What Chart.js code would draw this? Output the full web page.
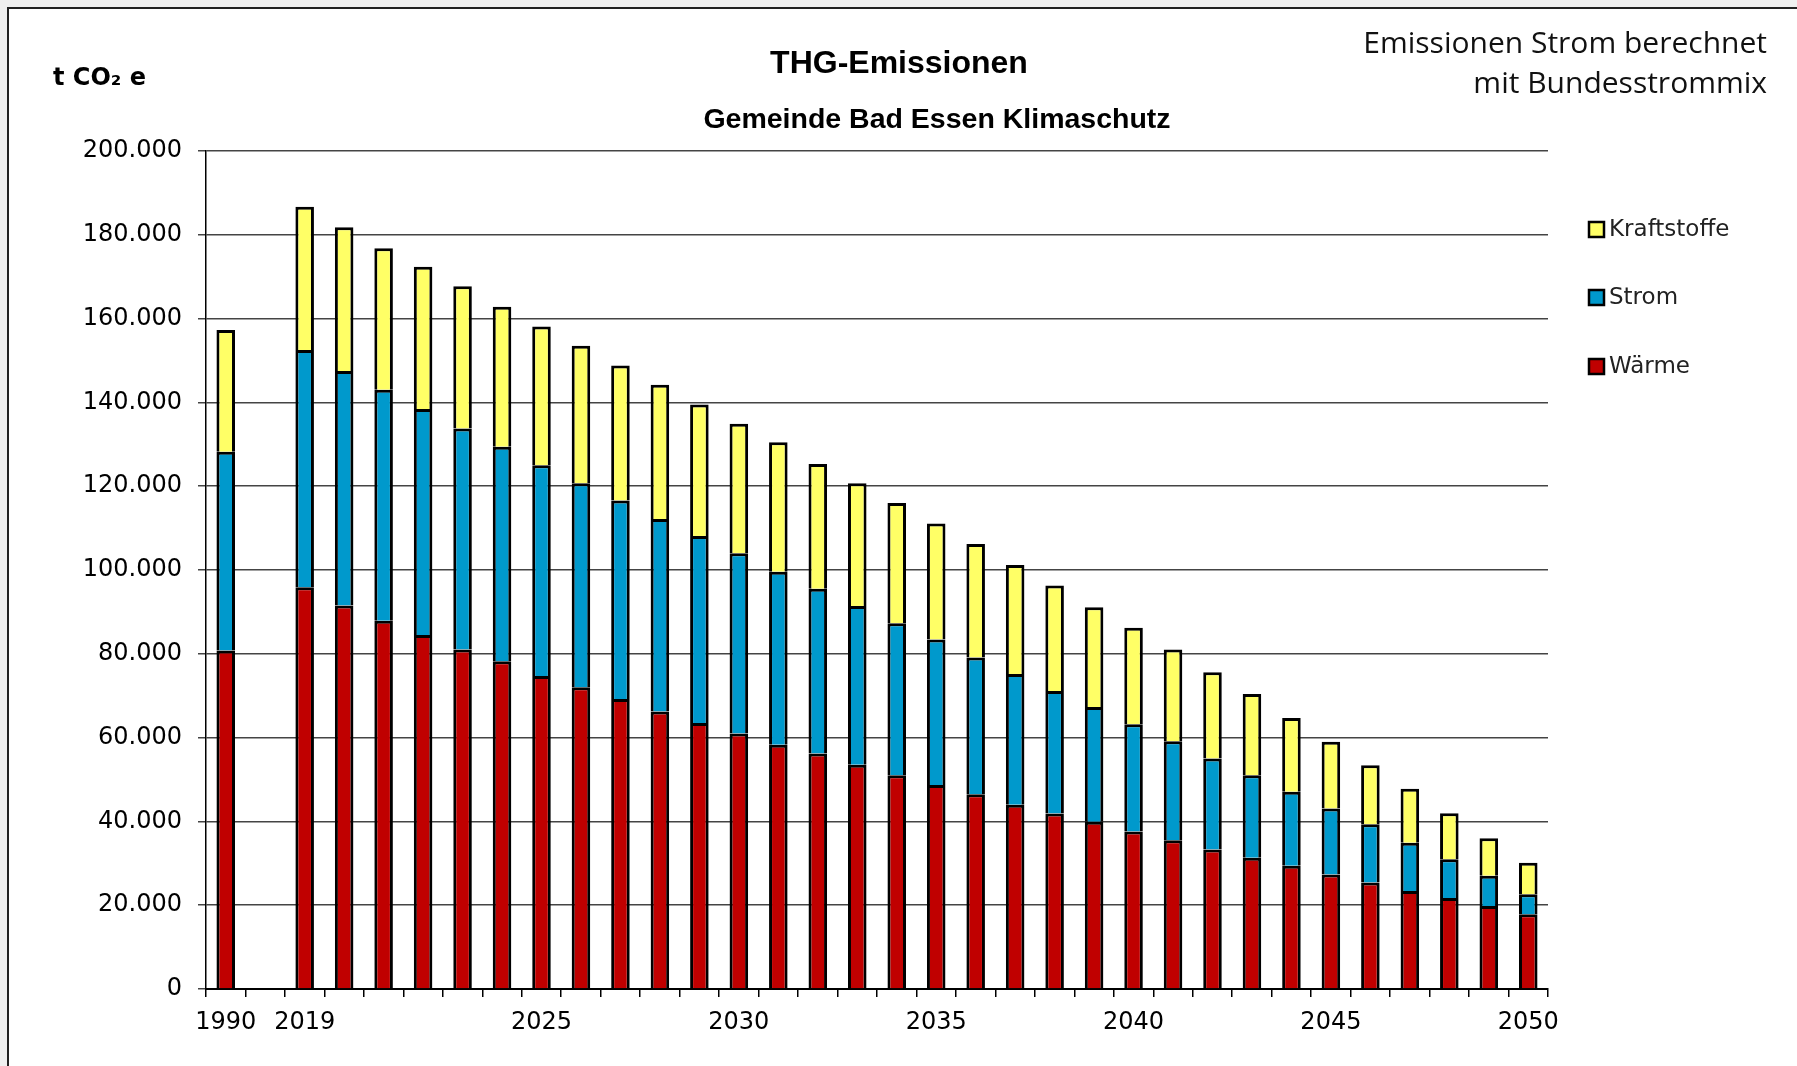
<!DOCTYPE html>
<html>
<head>
<meta charset="utf-8">
<title>THG-Emissionen</title>
<script src="https://cdn.jsdelivr.net/npm/chart.js@4.4.1/dist/chart.umd.min.js"></script>
<style>
	html, body { margin: 0; padding: 0; background: #f0f0f0; overflow: hidden; }
	#frame { position: absolute; left: 7px; top: 7px; width: 1800px; height: 1070px; background: #fff; border-left: 2px solid #222; border-top: 2px solid #222; }
	#myChart { position: absolute; left: 0; top: 0; }
</style>
</head>
<body>
<div id="frame"></div>
<canvas id="myChart" width="1797" height="1066"></canvas>
<script>
// Kategorien (Lücke zwischen 1990 und 2019)
var years = ['1990', '', '2019', '2020', '2021', '2022', '2023', '2024', '2025', '2026',
	'2027', '2028', '2029', '2030', '2031', '2032', '2033', '2034', '2035', '2036',
	'2037', '2038', '2039', '2040', '2041', '2042', '2043', '2044', '2045', '2046',
	'2047', '2048', '2049', '2050'];
var shownYears = ['1990', '2019', '2025', '2030', '2035', '2040', '2045', '2050'];

// t CO2 e
var waerme = [80800, null, 95900, 91500, 87900, 84500, 81000, 78250, 74700, 72000,
	69200, 66200, 63500, 61000, 58300, 56200, 53500, 51000, 48700, 46500,
	44000, 41900, 39900, 37600, 35500, 33300, 31300, 29400, 27300, 25400,
	23400, 21700, 19800, 17850];
var strom = [47450, null, 56600, 56000, 55100, 53900, 52800, 51150, 50300, 48700,
	47400, 46000, 44600, 43000, 41300, 39300, 37900, 36300, 34700, 32600,
	31200, 29200, 27400, 25600, 23600, 21700, 19700, 17700, 15800, 13900,
	11500, 9250, 7200, 4750];
var kraftstoffe = [29050, null, 34200, 34300, 33800, 34000, 33900, 33400, 33100, 32800,
	32200, 32000, 31400, 30900, 30900, 29800, 29300, 28700, 27700, 27100,
	26000, 25200, 23800, 23000, 21900, 20600, 19400, 17600, 15900, 14100,
	12900, 11000, 9000, 7550];

var titleText = 'THG-Emissionen';
var subtitleText = 'Gemeinde Bad Essen Klimaschutz';
var unitText = 't CO\u2082 e';
var noteLines = ['Emissionen Strom berechnet', 'mit Bundesstrommix'];

// Titel, Einheit, Hinweis und Legende
var textPlugin = {
	id: 'texts',
	afterDraw: function (chart) {
		var ctx = chart.ctx;
		ctx.save();
		ctx.fillStyle = '#000';
		ctx.textBaseline = 'alphabetic';

		ctx.textAlign = 'center';
		ctx.font = 'bold 32px "Liberation Sans"';
		ctx.fillText(titleText, 899, 73);
		ctx.font = 'bold 28.5px "Liberation Sans"';
		ctx.fillText(subtitleText, 937, 128);

		ctx.textAlign = 'left';
		ctx.font = 'bold 24px "DejaVu Sans"';
		ctx.fillText(unitText, 53, 85);

		ctx.textAlign = 'right';
		ctx.fillStyle = '#111';
		ctx.font = '30px "Open Sans"';
		ctx.fillText(noteLines[0], 1767, 53);
		ctx.fillText(noteLines[1], 1767, 93);

		// Legende (umgekehrte Reihenfolge)
		var rows = [229, 297, 366];
		var ds = chart.data.datasets.slice().reverse();
		ctx.textAlign = 'left';
		ctx.textBaseline = 'middle';
		ctx.font = '23px "DejaVu Sans"';
		for (var i = 0; i < ds.length; i++) {
			ctx.fillStyle = ds[i].backgroundColor;
			ctx.fillRect(1589, rows[i] - 7, 15, 15);
			ctx.strokeStyle = '#000';
			ctx.lineWidth = 2.5;
			ctx.strokeRect(1589, rows[i] - 7, 15, 15);
			ctx.fillStyle = '#222';
			ctx.fillText(ds[i].label, 1609, rows[i] + 1);
		}
		ctx.restore();
	}
};

function formatNumber(v) {
	return String(v).replace(/\B(?=(\d{3})+(?!\d))/g, '.');
}

var barStyle = { borderColor: '#000', borderWidth: 3, barPercentage: 0.47, categoryPercentage: 1 };

var emissionChart = new Chart(document.getElementById('myChart'), {
	type: 'bar',
	data: {
		labels: years,
		datasets: [
			Object.assign({ label: 'Wärme', data: waerme, backgroundColor: '#C00000' }, barStyle),
			Object.assign({ label: 'Strom', data: strom, backgroundColor: '#0099CC' }, barStyle),
			Object.assign({ label: 'Kraftstoffe', data: kraftstoffe, backgroundColor: '#FFFF66' }, barStyle)
		]
	},
	options: {
		responsive: false,
		animation: false,
		layout: { padding: { left: 0, top: 151, right: 249, bottom: 0 } },
		plugins: {
			legend: { display: false },
			title: { display: false },
			tooltip: { enabled: false }
		},
		scales: {
			x: {
				stacked: true,
				afterFit: function (scale) { scale.height = 77; },
				grid: { drawOnChartArea: false, drawTicks: true, tickLength: 8, color: '#000', lineWidth: 1.5 },
				border: { display: true, color: '#000', width: 2 },
				ticks: {
					autoSkip: false,
					maxRotation: 0,
					padding: 11,
					color: '#000',
					font: { family: 'DejaVu Sans', size: 24 },
					callback: function (value) {
						var lab = this.getLabelForValue(value);
						return shownYears.indexOf(lab) >= 0 ? lab : '';
					}
				}
			},
			y: {
				stacked: true,
				min: 0,
				max: 200000,
				afterFit: function (scale) { scale.width = 206; },
				grid: { color: '#444', lineWidth: 1.5, tickLength: 8 },
				border: { display: true, color: '#000', width: 1.5 },
				ticks: {
					stepSize: 20000,
					padding: 16,
					color: '#000',
					font: { family: 'DejaVu Sans', size: 24 },
					callback: function (v) { return formatNumber(v); }
				}
			}
		}
	},
	plugins: [textPlugin]
});
</script>
</body>
</html>
